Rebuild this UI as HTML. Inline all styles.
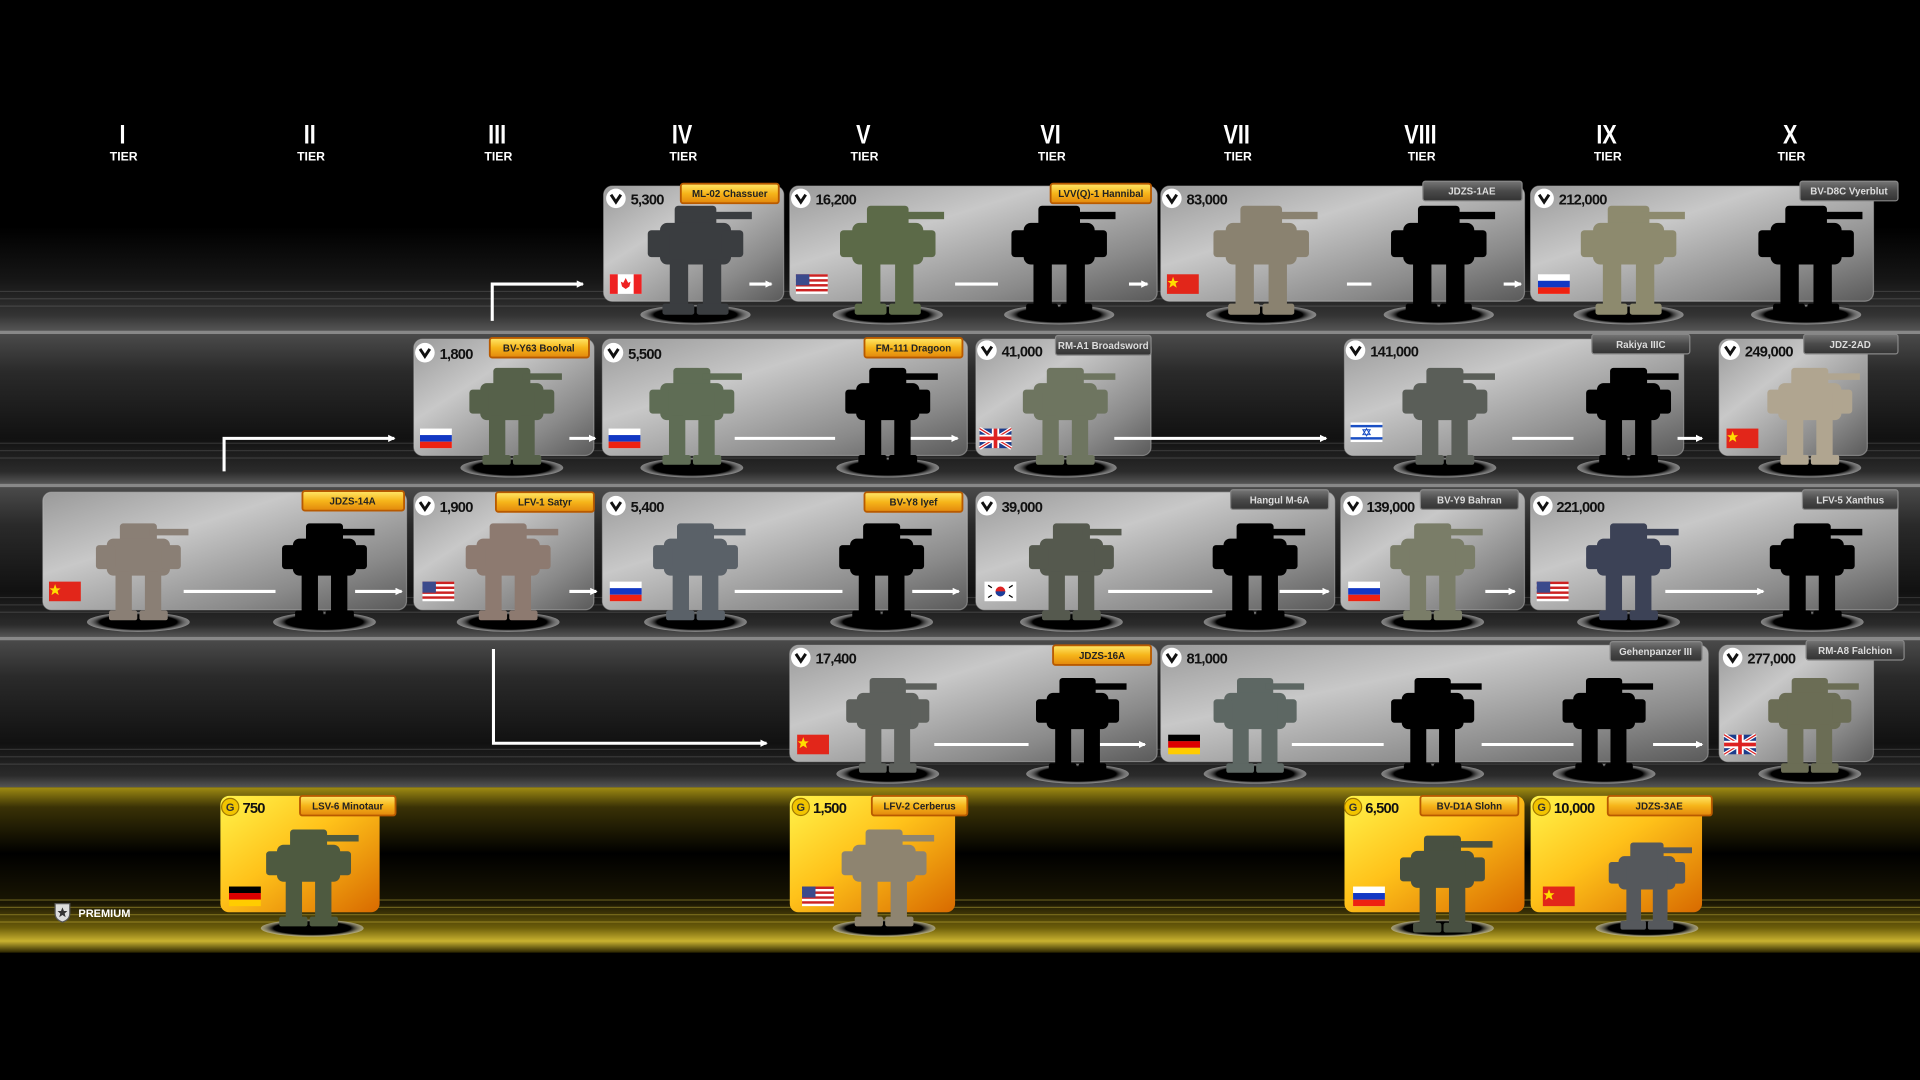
<!DOCTYPE html>
<html><head><meta charset="utf-8"><style>
html,body{margin:0;padding:0;background:#000;width:1920px;height:1080px;overflow:hidden}
svg{display:block}
.t{font-family:"Liberation Sans",sans-serif;font-weight:bold}
</style></head><body>
<svg width="1920" height="1080" viewBox="0 0 1568 882" xmlns="http://www.w3.org/2000/svg">
<defs>
<linearGradient id="band" x1="0" y1="0" x2="0" y2="1">
<stop offset="0" stop-color="#4a4a4a"/><stop offset="0.25" stop-color="#2a2a2a"/><stop offset="0.7" stop-color="#111"/><stop offset="0.92" stop-color="#2b2b2b"/><stop offset="1" stop-color="#555"/></linearGradient>
<linearGradient id="band1" x1="0" y1="0" x2="0" y2="1">
<stop offset="0" stop-color="#000"/><stop offset="0.5" stop-color="#151515"/><stop offset="0.85" stop-color="#333"/><stop offset="1" stop-color="#555"/></linearGradient>
<linearGradient id="gold" x1="0" y1="0" x2="0" y2="1">
<stop offset="0" stop-color="#a08c12"/><stop offset="0.12" stop-color="#3a3206"/><stop offset="0.4" stop-color="#000"/><stop offset="0.7" stop-color="#1a1603"/><stop offset="0.85" stop-color="#6d5e0a"/><stop offset="0.93" stop-color="#c9b230"/><stop offset="1" stop-color="#2a2400"/></linearGradient>
<linearGradient id="card" x1="0" y1="0" x2="1" y2="1">
<stop offset="0" stop-color="#9a9a9a"/><stop offset="0.35" stop-color="#c8c8c8"/><stop offset="0.75" stop-color="#8a8a8a"/><stop offset="1" stop-color="#5a5a5a"/></linearGradient>
<linearGradient id="pcard" x1="0" y1="0" x2="1" y2="1">
<stop offset="0" stop-color="#fff34a"/><stop offset="0.45" stop-color="#ffc21a"/><stop offset="1" stop-color="#d86a00"/></linearGradient>
<linearGradient id="olab" x1="0" y1="0" x2="0" y2="1">
<stop offset="0" stop-color="#ffe86a"/><stop offset="0.5" stop-color="#f6b51a"/><stop offset="1" stop-color="#e2870c"/></linearGradient>
<linearGradient id="glab" x1="0" y1="0" x2="0" y2="1">
<stop offset="0" stop-color="#777"/><stop offset="0.5" stop-color="#4a4a4a"/><stop offset="1" stop-color="#333"/></linearGradient>
<radialGradient id="shad"><stop offset="0" stop-color="#000"/><stop offset="0.75" stop-color="#000"/><stop offset="1" stop-color="#ddd" stop-opacity="0.5"/></radialGradient>
<marker id="ah" markerWidth="6" markerHeight="6" refX="5" refY="3" orient="auto" markerUnits="userSpaceOnUse"><path d="M0,0 L6,3 L0,6 Z" fill="#fff"/></marker>
<symbol id="mech" viewBox="0 0 90 100" overflow="visible">
<rect x="28" y="10" width="34" height="18" rx="3"/>
<rect x="55" y="15" width="36" height="6"/>
<rect x="16" y="24" width="58" height="34" rx="6"/>
<rect x="6" y="30" width="18" height="22" rx="3"/>
<rect x="66" y="30" width="18" height="22" rx="3"/>
<rect x="24" y="54" width="15" height="40" rx="3"/>
<rect x="51" y="54" width="15" height="40" rx="3"/>
<rect x="18" y="90" width="26" height="9" rx="2"/>
<rect x="46" y="90" width="26" height="9" rx="2"/>
</symbol>
<g id="us"><rect width="26" height="16" fill="#fff"/><g fill="#c22"><rect y="0" width="26" height="2"/><rect y="4" width="26" height="2"/><rect y="8" width="26" height="2"/><rect y="12" width="26" height="2"/></g><rect width="11" height="9" fill="#3b4a8c"/></g>
<g id="ru"><rect width="26" height="16" fill="#fff"/><rect y="5.3" width="26" height="5.4" fill="#1238c4"/><rect y="10.7" width="26" height="5.3" fill="#e21"/></g>
<g id="cn"><rect width="26" height="16" fill="#e2261a"/><path d="M5,2 L6.2,5.5 L9.5,5.5 L7,7.5 L8,11 L5,9 L2,11 L3,7.5 L0.5,5.5 L3.8,5.5Z" fill="#fd0"/></g>
<g id="uk"><rect width="26" height="16" fill="#1c3c8c"/><path d="M0,0 L26,16 M26,0 L0,16" stroke="#fff" stroke-width="3"/><path d="M0,0 L26,16 M26,0 L0,16" stroke="#d22" stroke-width="1"/><rect x="10" width="6" height="16" fill="#fff"/><rect y="5" width="26" height="6" fill="#fff"/><rect x="11.5" width="3" height="16" fill="#d22"/><rect y="6.5" width="26" height="3" fill="#d22"/></g>
<g id="de"><rect width="26" height="5.4" fill="#000"/><rect y="5.3" width="26" height="5.4" fill="#d00"/><rect y="10.7" width="26" height="5.3" fill="#fc0"/></g>
<g id="chk"><circle r="8" fill="#fff"/><path d="M-4,-3 L0,3 L4,-3" fill="none" stroke="#111" stroke-width="2.4"/></g>
<g id="gc"><circle r="7" fill="#f2c400" stroke="#a07800" stroke-width="1"/><text y="3.5" font-size="9" text-anchor="middle" fill="#333" font-family="Liberation Sans" font-weight="bold">G</text></g>
</defs>

<rect width="1568" height="882" fill="#000"/>

<rect x="0" y="185" width="1568" height="85" fill="url(#band1)"/>
<rect x="0" y="270" width="1568" height="3" fill="#888"/>
<rect x="0" y="273" width="1568" height="122" fill="url(#band)"/>
<rect x="0" y="395" width="1568" height="3" fill="#888"/>
<rect x="0" y="398" width="1568" height="122" fill="url(#band)"/>
<rect x="0" y="520" width="1568" height="3" fill="#888"/>
<rect x="0" y="523" width="1568" height="120" fill="url(#band)"/>
<rect x="0" y="643" width="1568" height="135" fill="url(#gold)"/>
<g stroke="#fff" stroke-opacity="0.12" stroke-width="1">
<line x1="0" y1="238" x2="1568" y2="238"/><line x1="0" y1="244" x2="1568" y2="244"/><line x1="0" y1="250" x2="1568" y2="250"/>
<line x1="0" y1="362" x2="1568" y2="362"/><line x1="0" y1="368" x2="1568" y2="368"/><line x1="0" y1="374" x2="1568" y2="374"/>
<line x1="0" y1="488" x2="1568" y2="488"/><line x1="0" y1="494" x2="1568" y2="494"/><line x1="0" y1="500" x2="1568" y2="500"/>
<line x1="0" y1="612" x2="1568" y2="612"/><line x1="0" y1="618" x2="1568" y2="618"/><line x1="0" y1="624" x2="1568" y2="624"/>
</g>
<g stroke="#e8d04a" stroke-opacity="0.35" stroke-width="1">
<line x1="0" y1="735" x2="1568" y2="735"/><line x1="0" y1="741" x2="1568" y2="741"/><line x1="0" y1="747" x2="1568" y2="747"/><line x1="0" y1="753" x2="1568" y2="753"/>
</g>

<g class="t" fill="#fff" text-anchor="middle">
<g font-size="22"><text x="100" y="117" transform="translate(100 0) scale(0.8 1) translate(-100 0)">I</text>
<text x="253" y="117" transform="translate(253 0) scale(0.8 1) translate(-253 0)">II</text>
<text x="406" y="117" transform="translate(406 0) scale(0.8 1) translate(-406 0)">III</text>
<text x="557" y="117" transform="translate(557 0) scale(0.8 1) translate(-557 0)">IV</text>
<text x="705" y="117" transform="translate(705 0) scale(0.8 1) translate(-705 0)">V</text>
<text x="858" y="117" transform="translate(858 0) scale(0.8 1) translate(-858 0)">VI</text>
<text x="1010" y="117" transform="translate(1010 0) scale(0.8 1) translate(-1010 0)">VII</text>
<text x="1160" y="117" transform="translate(1160 0) scale(0.8 1) translate(-1160 0)">VIII</text>
<text x="1312" y="117" transform="translate(1312 0) scale(0.8 1) translate(-1312 0)">IX</text>
<text x="1462" y="117" transform="translate(1462 0) scale(0.8 1) translate(-1462 0)">X</text></g>
<g font-size="10"><text x="101" y="131">TIER</text><text x="254" y="131">TIER</text><text x="407" y="131">TIER</text><text x="558" y="131">TIER</text><text x="706" y="131">TIER</text><text x="859" y="131">TIER</text><text x="1011" y="131">TIER</text><text x="1161" y="131">TIER</text><text x="1313" y="131">TIER</text><text x="1463" y="131">TIER</text></g>
</g>

<g fill="url(#card)" stroke="#bbb" stroke-opacity="0.5">
<rect x="493" y="152" width="147" height="94" rx="7"/>
<rect x="645" y="152" width="300" height="94" rx="7"/>
<rect x="948" y="152" width="297" height="94" rx="7"/>
<rect x="1250" y="152" width="280" height="94" rx="7"/>
<rect x="338" y="277" width="147" height="95" rx="7"/>
<rect x="492" y="277" width="298" height="95" rx="7"/>
<rect x="797" y="277" width="143" height="95" rx="7"/>
<rect x="1098" y="277" width="277" height="95" rx="7"/>
<rect x="1404" y="277" width="121" height="95" rx="7"/>
<rect x="35" y="402" width="297" height="96" rx="7"/>
<rect x="338" y="402" width="147" height="96" rx="7"/>
<rect x="492" y="402" width="298" height="96" rx="7"/>
<rect x="797" y="402" width="293" height="96" rx="7"/>
<rect x="1095" y="402" width="150" height="96" rx="7"/>
<rect x="1250" y="402" width="300" height="96" rx="7"/>
<rect x="645" y="527" width="300" height="95" rx="7"/>
<rect x="948" y="527" width="447" height="95" rx="7"/>
<rect x="1404" y="527" width="126" height="95" rx="7"/>
</g>
<g fill="url(#pcard)">
<rect x="180" y="650" width="130" height="95" rx="7"/>
<rect x="645" y="650" width="135" height="95" rx="7"/>
<rect x="1098" y="650" width="147" height="95" rx="7"/>
<rect x="1250" y="650" width="140" height="95" rx="7"/>
</g>

<g stroke="#fff" stroke-width="2.5" fill="none">
<path d="M402,262 V232 H476" marker-end="url(#ah)"/>
<path d="M183,385 V358 H322" marker-end="url(#ah)"/>
<path d="M403,530 V607 H626" marker-end="url(#ah)"/>
<line x1="612" y1="232" x2="630" y2="232" marker-end="url(#ah)"/>
<line x1="780" y1="232" x2="815" y2="232"/>
<line x1="922" y1="232" x2="937" y2="232" marker-end="url(#ah)"/>
<line x1="1100" y1="232" x2="1120" y2="232"/>
<line x1="1228" y1="232" x2="1242" y2="232" marker-end="url(#ah)"/>
<line x1="465" y1="358" x2="486" y2="358" marker-end="url(#ah)"/>
<line x1="600" y1="358" x2="682" y2="358"/>
<line x1="740" y1="358" x2="782" y2="358" marker-end="url(#ah)"/>
<line x1="910" y1="358" x2="1083" y2="358" marker-end="url(#ah)"/>
<line x1="1235" y1="358" x2="1285" y2="358"/>
<line x1="1370" y1="358" x2="1390" y2="358" marker-end="url(#ah)"/>
<line x1="150" y1="483" x2="225" y2="483"/>
<line x1="290" y1="483" x2="328" y2="483" marker-end="url(#ah)"/>
<line x1="465" y1="483" x2="487" y2="483" marker-end="url(#ah)"/>
<line x1="600" y1="483" x2="688" y2="483"/>
<line x1="745" y1="483" x2="783" y2="483" marker-end="url(#ah)"/>
<line x1="905" y1="483" x2="990" y2="483"/>
<line x1="1045" y1="483" x2="1085" y2="483" marker-end="url(#ah)"/>
<line x1="1213" y1="483" x2="1237" y2="483" marker-end="url(#ah)"/>
<line x1="1360" y1="483" x2="1440" y2="483" marker-end="url(#ah)"/>
<line x1="763" y1="608" x2="840" y2="608"/>
<line x1="895" y1="608" x2="935" y2="608" marker-end="url(#ah)"/>
<line x1="1055" y1="608" x2="1130" y2="608"/>
<line x1="1210" y1="608" x2="1285" y2="608"/>
<line x1="1350" y1="608" x2="1390" y2="608" marker-end="url(#ah)"/>
</g>

<g fill="url(#shad)">
<ellipse cx="568" cy="257" rx="45" ry="8"/><ellipse cx="725" cy="257" rx="45" ry="8"/><ellipse cx="865" cy="257" rx="45" ry="8"/><ellipse cx="1030" cy="257" rx="45" ry="8"/><ellipse cx="1175" cy="257" rx="45" ry="8"/><ellipse cx="1330" cy="257" rx="45" ry="8"/><ellipse cx="1475" cy="257" rx="45" ry="8"/>
<ellipse cx="418" cy="382" rx="42" ry="8"/><ellipse cx="565" cy="382" rx="42" ry="8"/><ellipse cx="725" cy="382" rx="42" ry="8"/><ellipse cx="870" cy="382" rx="42" ry="8"/><ellipse cx="1180" cy="382" rx="42" ry="8"/><ellipse cx="1330" cy="382" rx="42" ry="8"/><ellipse cx="1478" cy="382" rx="42" ry="8"/>
<ellipse cx="113" cy="508" rx="42" ry="8"/><ellipse cx="265" cy="508" rx="42" ry="8"/><ellipse cx="415" cy="508" rx="42" ry="8"/><ellipse cx="568" cy="508" rx="42" ry="8"/><ellipse cx="720" cy="508" rx="42" ry="8"/><ellipse cx="875" cy="508" rx="42" ry="8"/><ellipse cx="1025" cy="508" rx="42" ry="8"/><ellipse cx="1170" cy="508" rx="42" ry="8"/><ellipse cx="1330" cy="508" rx="42" ry="8"/><ellipse cx="1480" cy="508" rx="42" ry="8"/>
<ellipse cx="725" cy="632" rx="42" ry="8"/><ellipse cx="880" cy="632" rx="42" ry="8"/><ellipse cx="1025" cy="632" rx="42" ry="8"/><ellipse cx="1170" cy="632" rx="42" ry="8"/><ellipse cx="1310" cy="632" rx="42" ry="8"/><ellipse cx="1478" cy="632" rx="42" ry="8"/>
<ellipse cx="255" cy="758" rx="42" ry="7"/><ellipse cx="722" cy="758" rx="42" ry="7"/><ellipse cx="1178" cy="758" rx="42" ry="7"/><ellipse cx="1345" cy="758" rx="42" ry="7"/>
</g>

<use href="#mech" x="523" y="158" width="90" height="100" fill="#3a3d40"/>
<use href="#mech" x="680" y="158" width="90" height="100" fill="#5c6a48"/>
<use href="#mech" x="820" y="158" width="90" height="100" fill="#000"/>
<use href="#mech" x="985" y="158" width="90" height="100" fill="#8a8270"/>
<use href="#mech" x="1130" y="158" width="90" height="100" fill="#000"/>
<use href="#mech" x="1285" y="158" width="90" height="100" fill="#8d8a6e"/>
<use href="#mech" x="1430" y="158" width="90" height="100" fill="#000"/>
<use href="#mech" x="378" y="290" width="80" height="92" fill="#56614a"/>
<use href="#mech" x="525" y="290" width="80" height="92" fill="#5f6d55"/>
<use href="#mech" x="685" y="290" width="80" height="92" fill="#000"/>
<use href="#mech" x="830" y="290" width="80" height="92" fill="#6e7560"/>
<use href="#mech" x="1140" y="290" width="80" height="92" fill="#5a5e58"/>
<use href="#mech" x="1290" y="290" width="80" height="92" fill="#000"/>
<use href="#mech" x="1438" y="290" width="80" height="92" fill="#b0a590"/>
<use href="#mech" x="73" y="418" width="80" height="90" fill="#8a7f75"/>
<use href="#mech" x="225" y="418" width="80" height="90" fill="#000"/>
<use href="#mech" x="375" y="418" width="80" height="90" fill="#8d7a70"/>
<use href="#mech" x="528" y="418" width="80" height="90" fill="#5a6168"/>
<use href="#mech" x="680" y="418" width="80" height="90" fill="#000"/>
<use href="#mech" x="835" y="418" width="80" height="90" fill="#55594e"/>
<use href="#mech" x="985" y="418" width="80" height="90" fill="#000"/>
<use href="#mech" x="1130" y="418" width="80" height="90" fill="#7a7d68"/>
<use href="#mech" x="1290" y="418" width="80" height="90" fill="#3c4256"/>
<use href="#mech" x="1440" y="418" width="80" height="90" fill="#000"/>
<use href="#mech" x="685" y="545" width="80" height="87" fill="#5d605c"/>
<use href="#mech" x="840" y="545" width="80" height="87" fill="#000"/>
<use href="#mech" x="985" y="545" width="80" height="87" fill="#5d6763"/>
<use href="#mech" x="1130" y="545" width="80" height="87" fill="#000"/>
<use href="#mech" x="1270" y="545" width="80" height="87" fill="#000"/>
<use href="#mech" x="1438" y="545" width="80" height="87" fill="#6b6d55"/>
<use href="#mech" x="212" y="668" width="80" height="90" fill="#4e5a40"/>
<use href="#mech" x="682" y="668" width="80" height="90" fill="#8e8470"/>
<use href="#mech" x="1138" y="668" width="80" height="100" fill="#485041"/>
<use href="#mech" x="1295" y="680" width="100" height="80" fill="#55585c"/>

<g transform="translate(498,224)"><rect width="26" height="16" fill="#fff"/><rect width="6.5" height="16" fill="#e22"/><rect x="19.5" width="6.5" height="16" fill="#e22"/><path d="M13,3 L15,7 L17,6 L16,10 L13,12 L10,10 L9,6 L11,7 Z" fill="#e22"/></g>
<use href="#us" x="650" y="224"/><use href="#us" x="345" y="475"/><use href="#us" x="1255" y="475"/><use href="#us" x="655" y="724"/>
<use href="#ru" x="1256" y="224"/><use href="#ru" x="343" y="350"/><use href="#ru" x="497" y="350"/><use href="#ru" x="498" y="475"/><use href="#ru" x="1101" y="475"/><use href="#ru" x="1105" y="724"/>
<use href="#cn" x="953" y="224"/><use href="#cn" x="1410" y="350"/><use href="#cn" x="40" y="475"/><use href="#cn" x="651" y="600"/><use href="#cn" x="1260" y="724"/>
<use href="#uk" x="800" y="350"/><use href="#uk" x="1408" y="600"/>
<g transform="translate(1103,345)"><rect width="26" height="16" fill="#fff"/><rect y="2" width="26" height="2" fill="#1a4fc4"/><rect y="12" width="26" height="2" fill="#1a4fc4"/><path d="M13,5 L16,10 L10,10Z M13,11 L10,6 L16,6Z" fill="none" stroke="#1a4fc4" stroke-width="0.8"/></g>
<g transform="translate(804,475)"><rect width="26" height="16" fill="#fff"/><circle cx="13" cy="8" r="4" fill="#d22"/><path d="M9,8 A4,4 0 0 0 17,8 Z" fill="#1a3f9c"/><g stroke="#000" stroke-width="1"><line x1="3" y1="3" x2="6" y2="5"/><line x1="20" y1="11" x2="23" y2="13"/><line x1="20" y1="5" x2="23" y2="3"/><line x1="3" y1="13" x2="6" y2="11"/></g></g>
<use href="#de" x="954" y="600"/><use href="#de" x="187" y="724"/>

<use href="#chk" x="503" y="162"/><use href="#chk" x="654" y="162"/><use href="#chk" x="957" y="162"/><use href="#chk" x="1261" y="162"/>
<use href="#chk" x="347" y="288"/><use href="#chk" x="501" y="288"/><use href="#chk" x="806" y="286"/><use href="#chk" x="1107" y="286"/><use href="#chk" x="1413" y="286"/>
<use href="#chk" x="347" y="413"/><use href="#chk" x="503" y="413"/><use href="#chk" x="806" y="413"/><use href="#chk" x="1105" y="413"/><use href="#chk" x="1260" y="413"/>
<use href="#chk" x="654" y="537"/><use href="#chk" x="957" y="537"/><use href="#chk" x="1415" y="537"/>
<use href="#gc" x="188" y="659"/><use href="#gc" x="654" y="659"/><use href="#gc" x="1105" y="659"/><use href="#gc" x="1259" y="659"/>

<g class="t" font-size="12" fill="#111" style="letter-spacing:-0.6px">
<text x="515" y="167">5,300</text><text x="666" y="167">16,200</text><text x="969" y="167">83,000</text><text x="1273" y="167">212,000</text>
<text x="359" y="293">1,800</text><text x="513" y="293">5,500</text><text x="818" y="291">41,000</text><text x="1119" y="291">141,000</text><text x="1425" y="291">249,000</text>
<text x="359" y="418">1,900</text><text x="515" y="418">5,400</text><text x="818" y="418">39,000</text><text x="1116" y="418">139,000</text><text x="1271" y="418">221,000</text>
<text x="666" y="542">17,400</text><text x="969" y="542">81,000</text><text x="1427" y="542">277,000</text>
<text x="198" y="664">750</text><text x="664" y="664">1,500</text><text x="1115" y="664">6,500</text><text x="1269" y="664">10,000</text>
</g>

<g stroke="#b85a00" stroke-width="1.5" fill="url(#olab)">
<rect x="556" y="150" width="80" height="16" rx="2"/><rect x="858" y="150" width="82" height="16" rx="2"/>
<rect x="400" y="276" width="81" height="16" rx="2"/><rect x="706" y="276" width="80" height="16" rx="2"/>
<rect x="247" y="401" width="83" height="16" rx="2"/><rect x="405" y="402" width="80" height="16" rx="2"/><rect x="706" y="402" width="80" height="16" rx="2"/>
<rect x="860" y="527" width="80" height="16" rx="2"/>
<rect x="245" y="650" width="78" height="16" rx="2"/><rect x="712" y="650" width="78" height="16" rx="2"/><rect x="1160" y="650" width="80" height="16" rx="2"/><rect x="1313" y="650" width="85" height="16" rx="2"/>
</g>
<g stroke="#888" stroke-width="1" fill="url(#glab)">
<rect x="1162" y="148" width="81" height="16" rx="2"/><rect x="1470" y="148" width="80" height="16" rx="2"/>
<rect x="862" y="274" width="78" height="16" rx="2"/><rect x="1300" y="273" width="80" height="16" rx="2"/><rect x="1473" y="273" width="77" height="16" rx="2"/>
<rect x="1005" y="400" width="80" height="16" rx="2"/><rect x="1160" y="400" width="80" height="16" rx="2"/><rect x="1472" y="400" width="78" height="16" rx="2"/>
<rect x="1315" y="524" width="75" height="16" rx="2"/><rect x="1475" y="523" width="80" height="16" rx="2"/>
</g>
<g class="t" font-size="8" text-anchor="middle" fill="#222">
<text x="596" y="161">ML-02 Chassuer</text><text x="899" y="161">LVV(Q)-1 Hannibal</text>
<text x="440" y="287">BV-Y63 Boolval</text><text x="746" y="287">FM-111 Dragoon</text>
<text x="288" y="412">JDZS-14A</text><text x="445" y="413">LFV-1 Satyr</text><text x="746" y="413">BV-Y8 Iyef</text>
<text x="900" y="538">JDZS-16A</text>
<text x="284" y="661">LSV-6 Minotaur</text><text x="751" y="661">LFV-2 Cerberus</text><text x="1200" y="661">BV-D1A Slohn</text><text x="1355" y="661">JDZS-3AE</text>
</g>
<g class="t" font-size="8" text-anchor="middle" fill="#ddd">
<text x="1202" y="159">JDZS-1AE</text><text x="1510" y="159">BV-D8C Vyerblut</text>
<text x="901" y="285">RM-A1 Broadsword</text><text x="1340" y="284">Rakiya IIIC</text><text x="1511" y="284">JDZ-2AD</text>
<text x="1045" y="411">Hangul M-6A</text><text x="1200" y="411">BV-Y9 Bahran</text><text x="1511" y="411">LFV-5 Xanthus</text>
<text x="1352" y="535">Gehenpanzer III</text><text x="1515" y="534">RM-A8 Falchion</text>
</g>

<g transform="translate(51,745)"><path d="M-6,-7 H6 V1 Q6,6 0,8 Q-6,6 -6,1 Z" fill="#ddd" stroke="#555"/><path d="M0,-4 L1.2,-1 L4,-1 L1.8,1 L2.6,4 L0,2.2 L-2.6,4 L-1.8,1 L-4,-1 L-1.2,-1Z" fill="#333"/></g>
<text x="64" y="749" class="t" font-size="9" fill="#fff">PREMIUM</text>
</svg>
</body></html>
